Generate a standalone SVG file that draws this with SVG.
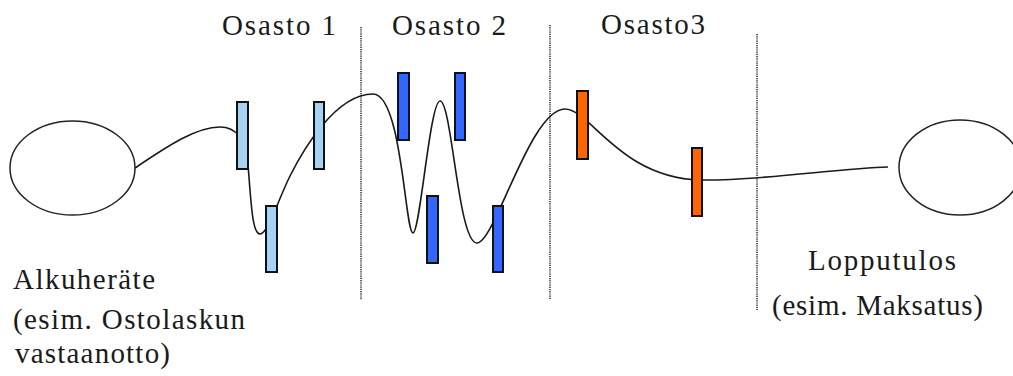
<svg xmlns="http://www.w3.org/2000/svg" width="1013" height="376" viewBox="0 0 1013 376">
<style>
text{font-family:"Liberation Serif","DejaVu Serif",serif;font-size:29px;fill:#1a1a1a}
.ell{fill:none;stroke:#222;stroke-width:1.5}
.div{stroke:#333;stroke-width:1.6;stroke-dasharray:1.2 1}
.bar{stroke:#111;stroke-width:2}
.lb{fill:#A6D2F4}
.db{fill:#3366FF}
.or{fill:#FF6600}
.curve{fill:none;stroke:#1a1a1a;stroke-width:1.6}
</style>
<rect width="1013" height="376" fill="#fff"/>
<g id="dividers">
<line class="div" x1="361" y1="27" x2="361" y2="300"/>
<line class="div" x1="550" y1="25" x2="550" y2="300"/>
<line class="div" x1="757" y1="34" x2="757" y2="310"/>
</g>
<g id="headers">
<text x="222" y="35" textLength="114" lengthAdjust="spacing">Osasto 1</text>
<text x="392" y="35" textLength="114" lengthAdjust="spacing">Osasto 2</text>
<text x="601" y="34" textLength="104" lengthAdjust="spacing">Osasto3</text>
</g>
<g id="connectors">
<path class="curve" d="M135,168 C165,148 195,127 220,127 C236,127 245,138 248,165 C251,200 252,234 260,234 C268,234 278,200 290,176 C302,152 335,94 373,94 C402,94 405,233 413,233 C420,233 430,101 440,101 C452,101 458,243 477,243 C495,243 530,109 565,109 C590,109 620,178 700,180 C760,181 840,168 888,167"/>
</g>
<g id="start">
<ellipse class="ell" cx="72.5" cy="168" rx="62.5" ry="47"/>
<text x="13" y="289" textLength="142" lengthAdjust="spacing">Alkuheräte</text>
<text x="13" y="329" textLength="232" lengthAdjust="spacing">(esim. Ostolaskun</text>
<text x="15" y="363" textLength="155" lengthAdjust="spacing">vastaanotto)</text>
</g>
<g id="end">
<ellipse class="ell" cx="960" cy="167.5" rx="61" ry="47.5"/>
<text x="808" y="270" textLength="148" lengthAdjust="spacing">Lopputulos</text>
<text x="772" y="315" textLength="211" lengthAdjust="spacing">(esim. Maksatus)</text>
</g>
<g id="osasto1">
<rect class="bar lb" x="237" y="102" width="11" height="67"/>
<rect class="bar lb" x="266" y="206" width="11" height="66"/>
<rect class="bar lb" x="314" y="102" width="10" height="67"/>
</g>
<g id="osasto2">
<rect class="bar db" x="398" y="73" width="11" height="67"/>
<rect class="bar db" x="427" y="196" width="11" height="67"/>
<rect class="bar db" x="455" y="73" width="10" height="67"/>
<rect class="bar db" x="493" y="206" width="10" height="66"/>
</g>
<g id="osasto3">
<rect class="bar or" x="577" y="91" width="11" height="68"/>
<rect class="bar or" x="692" y="148" width="10" height="68"/>
</g>
</svg>
